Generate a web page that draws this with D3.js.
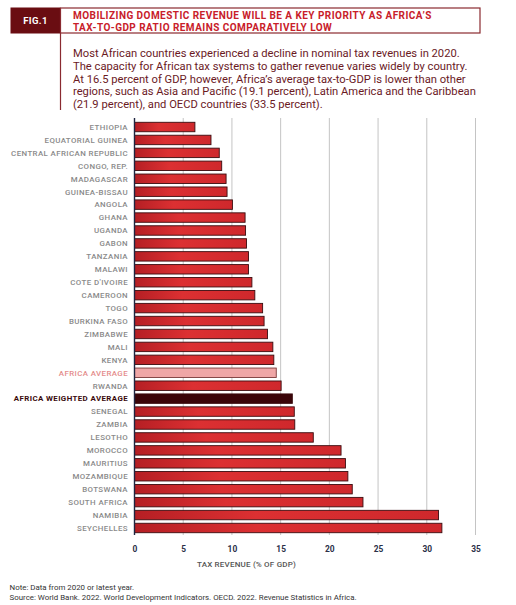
<!DOCTYPE html>
<html>
<head>
<meta charset="utf-8">
<script src="https://cdn.jsdelivr.net/npm/d3@7"></script>
<style>
  body { margin: 0; background: #fff; }
  svg { display: block; font-family: Roboto, "Noto Sans", sans-serif; }
</style>
</head>
<body>
<svg width="516" height="605"></svg>
<script>
// tax revenue, % of GDP (2020 or latest year)
const countries = [
  "ETHIOPIA", "EQUATORIAL GUINEA", "CENTRAL AFRICAN REPUBLIC", "CONGO, REP.",
  "MADAGASCAR", "GUINEA-BISSAU", "ANGOLA", "GHANA", "UGANDA", "GABON",
  "TANZANIA", "MALAWI", "COTE D'IVOIRE", "CAMEROON", "TOGO", "BURKINA FASO",
  "ZIMBABWE", "MALI", "KENYA", "AFRICA AVERAGE", "RWANDA",
  "AFRICA WEIGHTED AVERAGE", "SENEGAL", "ZAMBIA", "LESOTHO", "MOROCCO",
  "MAURITIUS", "MOZAMBIQUE", "BOTSWANA", "SOUTH AFRICA", "NAMIBIA", "SEYCHELLES"
];
const values = [
  6.2, 7.85, 8.7, 8.95,
  9.4, 9.5, 10.05, 11.35, 11.4, 11.5,
  11.7, 11.7, 12.05, 12.35, 13.15, 13.3,
  13.65, 14.2, 14.3, 14.55, 15.05,
  16.2, 16.4, 16.45, 18.35, 21.2,
  21.65, 21.9, 22.35, 23.45, 31.2, 31.55
];
const xTicks = [0, 5, 10, 15, 20, 25, 30, 35];

const titleLines = [
  "MOBILIZING DOMESTIC REVENUE WILL BE A KEY PRIORITY AS AFRICA\u2019S",
  "TAX-TO-GDP RATIO REMAINS COMPARATIVELY LOW"
];
const bodyLines = [
  "Most African countries experienced a decline in nominal tax revenues in 2020.",
  "The capacity for African tax systems to gather revenue varies widely by country.",
  "At 16.5 percent of GDP, however, Africa\u2019s average tax-to-GDP is lower than other",
  "regions, such as Asia and Pacific (19.1 percent), Latin America and the Caribbean",
  "(21.9 percent), and OECD countries (33.5 percent)."
];
const notes = [
  "Note: Data from 2020 or latest year.",
  "Source: World Bank. 2022. World Development Indicators. OECD. 2022. Revenue Statistics in Africa."
];

const rows = countries.map((c, i) => ({ name: c, value: values[i] }));

const svg = d3.select("svg");
const maroon = "#6a0d12";

// header
svg.append("rect").attr("x", 10.5).attr("y", 7.5).attr("width", 50).attr("height", 26)
  .attr("fill", maroon);
svg.append("text").attr("x", 35.5).attr("y", 24).attr("text-anchor", "middle")
  .attr("fill", "#fff").attr("font-size", 9.5).attr("font-weight", 700)
  .attr("letter-spacing", 0.4).text("FIG.1");
svg.append("rect").attr("x", 60.5).attr("y", 8).attr("width", 419.5).attr("height", 25)
  .attr("fill", "none").attr("stroke", "#8a2a30").attr("stroke-width", 1.2);
svg.append("line").attr("x1", 60.5).attr("x2", 60.5).attr("y1", 33).attr("y2", 110)
  .attr("stroke", "#8a2a30").attr("stroke-width", 1.2);

svg.selectAll(".title").data(titleLines).enter().append("text")
  .attr("class", "title")
  .attr("x", 73).attr("y", (d, i) => 19.3 + i * 11.6)
  .attr("fill", "#c8202a").attr("font-size", 10).attr("font-weight", 700)
  .attr("letter-spacing", 0.45)
  .text(d => d);

svg.selectAll(".body").data(bodyLines).enter().append("text")
  .attr("class", "body")
  .attr("x", 73).attr("y", (d, i) => 57 + i * 12.8)
  .attr("fill", "#6b1a1f").attr("font-size", 11.2)
  .text(d => d);

// chart
const margin = { top: 121, left: 134.5, right: 475.5, bottom: 534 };
const x = d3.scaleLinear().domain([0, 35]).range([margin.left, margin.right]);
const y = d3.scaleBand().domain(countries).range([margin.top, margin.bottom]).paddingInner(0.27).paddingOuter(0.1);

const defs = svg.append("defs");
const grad = defs.append("linearGradient").attr("id", "barGrad");
grad.append("stop").attr("offset", "0%").attr("stop-color", "#b51f24");
grad.append("stop").attr("offset", "40%").attr("stop-color", "#dc3032");
grad.append("stop").attr("offset", "100%").attr("stop-color", "#cf282c");

// grid lines
svg.append("g").selectAll("line").data(xTicks.slice(1)).enter().append("line")
  .attr("x1", d => x(d)).attr("x2", d => x(d))
  .attr("y1", margin.top - 3).attr("y2", margin.bottom + 1)
  .attr("stroke", "#c4c4c4").attr("stroke-width", 1);

// bars
const fillFor = d => d.name === "AFRICA AVERAGE" ? "#efa6a6"
  : d.name === "AFRICA WEIGHTED AVERAGE" ? "#3b0509" : "url(#barGrad)";

svg.append("g").selectAll("rect").data(rows).enter().append("rect")
  .attr("x", x(0))
  .attr("y", d => y(d.name))
  .attr("width", d => x(d.value) - x(0))
  .attr("height", y.bandwidth())
  .attr("fill", fillFor)
  .attr("stroke", d => d.name === "AFRICA AVERAGE" ? "#7a3a3a" : "#3a0d10")
  .attr("stroke-width", 0.9);

// category labels
svg.append("g").selectAll("text").data(rows).enter().append("text")
  .attr("x", 128)
  .attr("y", d => y(d.name) + y.bandwidth() / 2)
  .attr("dy", "0.36em")
  .attr("text-anchor", "end")
  .attr("font-size", 7.9)
  .attr("letter-spacing", 0.4)
  .attr("font-weight", d => d.name === "AFRICA WEIGHTED AVERAGE" ? 700 : 500)
  .attr("fill", d => d.name === "AFRICA AVERAGE" ? "#e48c8c"
    : d.name === "AFRICA WEIGHTED AVERAGE" ? "#3a0a0d" : "#8a8a8a")
  .text(d => d.name);

// y axis line
svg.append("line").attr("x1", x(0)).attr("x2", x(0))
  .attr("y1", margin.top - 3).attr("y2", margin.bottom + 1)
  .attr("stroke", "#1f2540").attr("stroke-width", 1.4);

// x axis tick labels
const xAxis = d3.axisBottom(x).tickValues(xTicks).tickSize(0).tickPadding(0);
const gx = svg.append("g").attr("transform", `translate(0,${margin.bottom + 12})`).call(xAxis);
gx.select(".domain").remove();
gx.selectAll("text")
  .attr("font-family", "Roboto, sans-serif")
  .attr("font-size", 8.4)
  .attr("font-weight", 700)
  .attr("fill", "#2b3048");

svg.append("text").attr("x", 246.5).attr("y", 567).attr("text-anchor", "middle")
  .attr("font-size", 8).attr("font-weight", 500).attr("letter-spacing", 0.2)
  .attr("fill", "#555").text("TAX REVENUE (% OF GDP)");

svg.selectAll(".note").data(notes).enter().append("text")
  .attr("class", "note")
  .attr("x", 9.5).attr("y", (d, i) => 590 + i * 10.3)
  .attr("font-size", 7.9).attr("fill", "#333")
  .text(d => d);
</script>
</body>
</html>
